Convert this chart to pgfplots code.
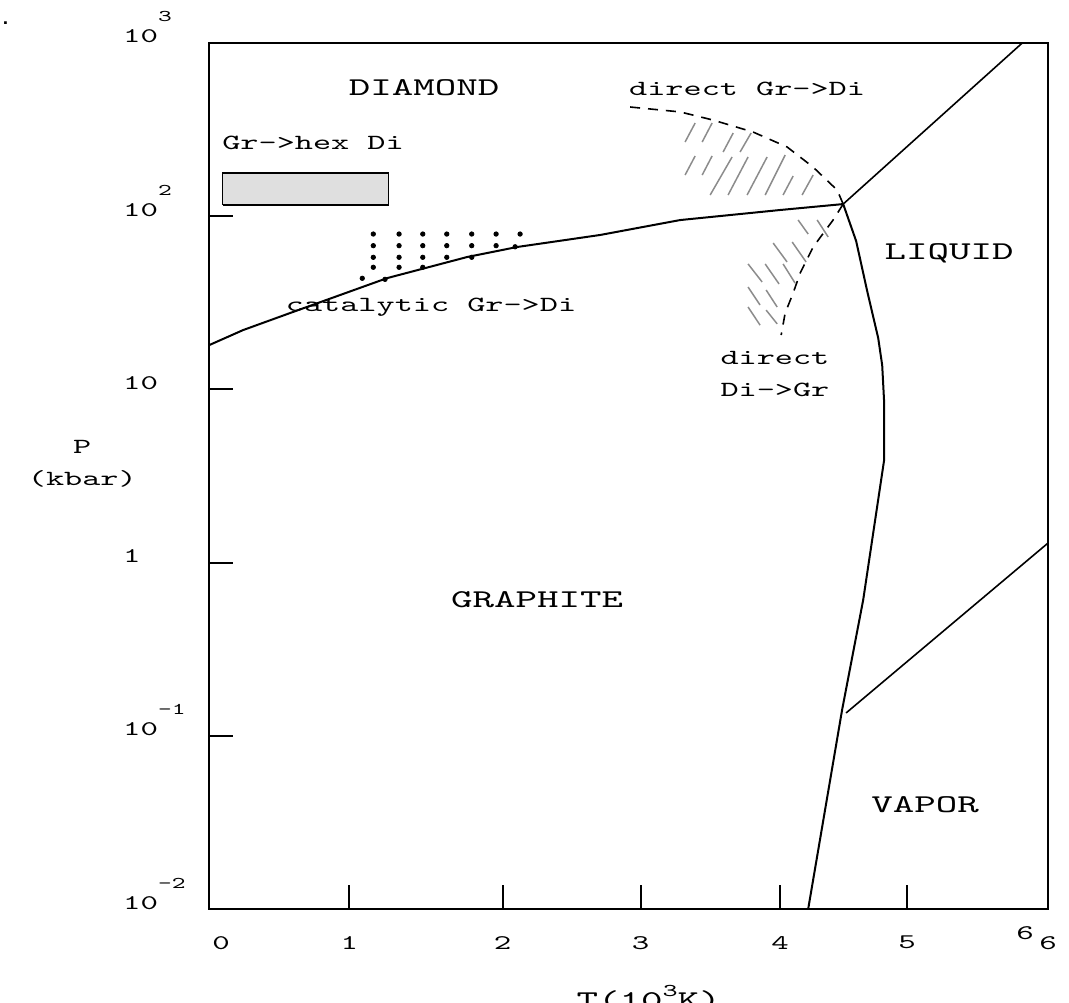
\documentclass[border=0pt]{standalone}
\usepackage{fontspec}
\setmainfont{lmmono10-regular.otf}[FakeStretch=1.6]
\usepackage{pgfplots}
\pgfplotsset{compat=1.18}

% raised small exponents, typewriter style
\newcommand\sups[1]{\raisebox{10.5pt}{\fontsize{8.2}{8.2}\selectfont #1}}
\newcommand\lsups[1]{\raisebox{6pt}{\fontsize{9}{9}\selectfont #1}}
\newcommand\regionfont{\fontsize{12.8}{15}\selectfont}
\newcommand\notefont{\fontsize{10.8}{16}\selectfont}
\newcommand\tickfont{\fontsize{10.4}{12}\selectfont}

\begin{document}
\begin{tikzpicture}
\useasboundingbox (-104.5pt,-46.5pt) rectangle (430pt,454.5pt);
\clip (-104.5pt,-46.5pt) rectangle (430pt,454.5pt);
\node[font=\sffamily\fontsize{17}{17}\selectfont, anchor=base west, inner sep=0pt] at (-104pt,442pt) {.};
\begin{axis}[
  at={(0pt,0pt)}, anchor=south west,
  width=419.5pt, height=433pt, scale only axis,
  xmin=-0.087, xmax=6,
  ymode=log, ymin=0.01, ymax=1000,
  axis line style={line width=1pt},
  tick pos=left, tick align=inside,
  major tick length=12pt,
  every tick/.style={black, line width=1pt},
  xminorticks=false, yminorticks=false,
  xtick={0.931,2.043,3.044,4.057,4.978},
  xticklabels={1,2,3,4,5},
  extra x ticks={0,6},
  extra x tick labels={0,6},
  extra x tick style={major tick length=0pt},
  ytick={0.1,1,10,100},
  yticklabels={10\sups{-1},1,10,10\sups{2}},
  extra y ticks={0.01,1000},
  extra y tick labels={10\sups{-2},10\sups{3}},
  extra y tick style={major tick length=0pt},
  xticklabel style={font=\tickfont, yshift=-10pt},
  yticklabel style={font=\tickfont, anchor=base west, xshift=-46.5pt},
  xlabel={T(10\lsups{3}K)},
  ylabel={P\\(kbar)},
  every axis x label/.style={at={(axis description cs:0.524,0)}, anchor=north, yshift=-34.5pt, font=\regionfont},
  every axis y label/.style={at={(axis description cs:-0.151,0.514)}, anchor=center, align=center, font=\notefont},
  unbounded coords=jump,
]

% graphite / diamond coexistence line
\addplot[black, line width=1pt] coordinates {
  (-0.087,18.0) (0.160,22.0) (0.501,27.6) (1.205,43.9) (1.785,58.1)
  (2.148,66.4) (2.750,77.9) (3.331,95.0) (4.057,108.6) (4.514,117.5)};

% diamond / liquid line
\addplot[black, line width=0.8pt] coordinates {(4.514,117.5) (5.813,1000)};

% graphite / liquid and graphite / vapor line
\addplot[black, line width=1pt] coordinates {
  (4.514,117.5) (4.608,71.9) (4.688,37.0) (4.768,19.8) (4.797,13.8)
  (4.811,8.46) (4.811,3.91) (4.659,0.608) (4.506,0.141) (4.260,0.01)};

% liquid / vapor line
\addplot[black, line width=0.8pt] coordinates {(4.535,0.1355) (6.0,1.297)};

% direct graphite -> diamond threshold
\addplot[black, line width=0.8pt, dash pattern=on 5pt off 4pt] coordinates {
  (2.968,427) (3.331,400) (3.570,359) (3.861,306) (4.107,251)
  (4.296,192) (4.470,141.6) (4.514,117.5)};

% direct diamond -> graphite threshold
\addplot[black, line width=0.8pt, dash pattern=on 5pt off 4pt] coordinates {
  (4.514,117.5) (4.441,95.1) (4.296,66.4) (4.202,47.0) (4.151,36.0)
  (4.093,27.6) (4.064,20.6)};

% hatching, region of direct Gr->Di conversion
\addplot[gray!90, line width=0.75pt] coordinates {
  (3.367,268.2) (3.440,345.2) (3,nan)
  (3.491,268.2) (3.563,345.2) (3,nan)
  (3.643,234.8) (3.716,302.2) (3,nan)
  (3.766,234.8) (3.846,302.2) (3,nan)
  (3.367,172.9) (3.440,222.7) (3,nan)
  (3.491,172.9) (3.563,222.7) (3,nan)
  (3.549,132.6) (3.708,219.7) (3,nan)
  (3.679,132.6) (3.824,219.7) (3,nan)
  (3.817,132.6) (3.962,219.7) (3,nan)
  (3.948,132.6) (4.093,225.6) (3,nan)
  (4.078,132.6) (4.151,170.7) (3,nan)
  (4.216,132.6) (4.296,172.9)};

% hatching, region of direct Di->Gr conversion
\addplot[gray!90, line width=0.75pt] coordinates {
  (4.187,95.1) (4.260,78.9) (3,nan)
  (4.325,95.1) (4.405,75.9) (3,nan)
  (4.006,70.0) (4.107,54.4) (3,nan)
  (4.144,70.96) (4.245,54.4) (3,nan)
  (3.824,53.0) (3.926,41.7) (3,nan)
  (3.948,53.0) (4.049,40.6) (3,nan)
  (4.078,53.0) (4.165,41.1) (3,nan)
  (3.824,39.0) (3.911,30.7) (3,nan)
  (3.955,37.5) (4.035,29.9) (3,nan)
  (3.824,29.9) (3.911,23.5) (3,nan)
  (3.955,28.7) (4.035,23.9)};

% catalytic synthesis conditions
\addplot[only marks, mark=*, mark size=1.1pt, black] coordinates {
  (1.105,78.9) (1.105,67.6) (1.105,57.9) (1.105,50.7)
  (1.292,78.9) (1.292,67.6) (1.292,57.9) (1.292,50.7)
  (1.464,78.9) (1.464,67.6) (1.464,57.9) (1.464,50.7)
  (1.638,78.9) (1.638,67.6) (1.638,57.9)
  (1.819,78.9) (1.819,67.6) (1.819,57.9)
  (1.996,78.9) (1.996,67.6)
  (2.170,78.9)
  (1.025,43.8) (1.190,43.2) (2.134,66.6)};

% graphite -> hexagonal diamond window
\addplot[draw=black, fill=gray!25, line width=0.8pt] coordinates {
  (0.012,116.1) (1.214,116.1) (1.214,178.3) (0.012,178.3) (0.012,116.1)};

% region and process labels
\node[font=\regionfont] at (axis cs:1.473,549) {DIAMOND};
\node[font=\notefont, anchor=west, inner sep=0pt] at (axis cs:0.007,264.6) {Gr->hex Di};
\node[font=\notefont] at (axis cs:3.817,542.6) {direct Gr->Di};
\node[font=\notefont] at (axis cs:1.524,29.9) {catalytic Gr->Di};
\node[font=\regionfont] at (axis cs:5.283,61.3) {LIQUID};
\node[font=\notefont, anchor=north west, align=left, inner sep=0pt] at (axis cs:3.621,16.66) {direct\\Di->Gr};
\node[font=\regionfont] at (axis cs:2.293,0.608) {GRAPHITE};
\node[font=\regionfont] at (axis cs:5.109,0.0399) {VAPOR};
\end{axis}
\node[font=\tickfont] at (408pt,-12pt) {6};
\end{tikzpicture}
\end{document}
